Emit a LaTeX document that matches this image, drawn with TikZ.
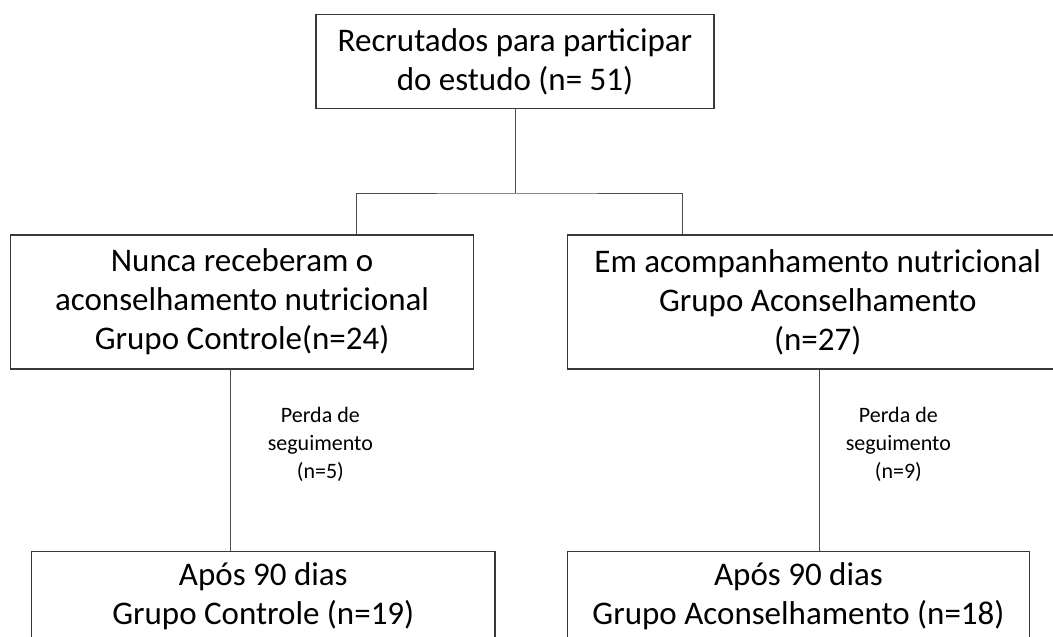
\documentclass[tikz,border=0pt]{standalone}
\usepackage{fontspec}
\setmainfont{Carlito}
\usetikzlibrary{calc}
\begin{document}
\begin{tikzpicture}[x=1pt,y=-1pt,
  box/.style={draw=black!78, line width=1.3pt, align=center, inner xsep=0pt, inner ysep=0pt, text=black,
              font=\fontsize{33}{39}\selectfont},
  conn/.style={draw=black!70, line width=1pt},
  lbl/.style={align=center, inner sep=0pt, text=black, font=\fontsize{22}{28}\selectfont}]
\useasboundingbox (0,0) rectangle (1053,637);
\clip (0,0) rectangle (1053,637);
\fill[white] (0,0) rectangle (1053,637);

\node[box, minimum width=398, minimum height=94] (top) at (515,61.7)
  {Recrutados para participar\\do estudo (n= 51)};
\node[box, minimum width=462.8, minimum height=134] (l) at (242.1,302)
  {Nunca receberam o\\aconselhamento nutricional\\Grupo Controle(n=24)};
\node[box, minimum width=500.5, minimum height=134] (r) at (817.75,302)
  {Em acompanhamento nutricional\\Grupo Aconselhamento\\(n=27)};
\node[box, minimum width=463.4, inner ysep=11, anchor=north] (bl) at (263.3,551)
  {Após 90 dias\\Grupo Controle (n=19)};
\node[box, minimum width=462, inner ysep=11, anchor=north] (br) at (798.5,551)
  {Após 90 dias\\Grupo Aconselhamento (n=18)};

\coordinate (jn) at (515,193);
\coordinate (lt) at ($(l.north west)+(346.3,0)$);
\coordinate (rt) at ($(r.north west)+(115.5,0)$);
\coordinate (ls) at ($(l.south west)+(220.3,0)$);
\coordinate (rs) at ($(r.south west)+(252.5,0)$);

\draw[conn] (top.south) -- (jn);
\draw[conn] (lt) |- (jn) -| (rt);
\draw[conn] (ls) -- (ls |- bl.north)
  node[lbl, pos=0.5, xshift=90, yshift=15.5] (lab1) {Perda de\\seguimento\\(n=5)};
\draw[conn] (rs) -- (rs |- br.north)
  node[lbl, pos=0.5, xshift=79, yshift=15.5] (lab2) {Perda de\\seguimento\\(n=9)};
\end{tikzpicture}
\end{document}
